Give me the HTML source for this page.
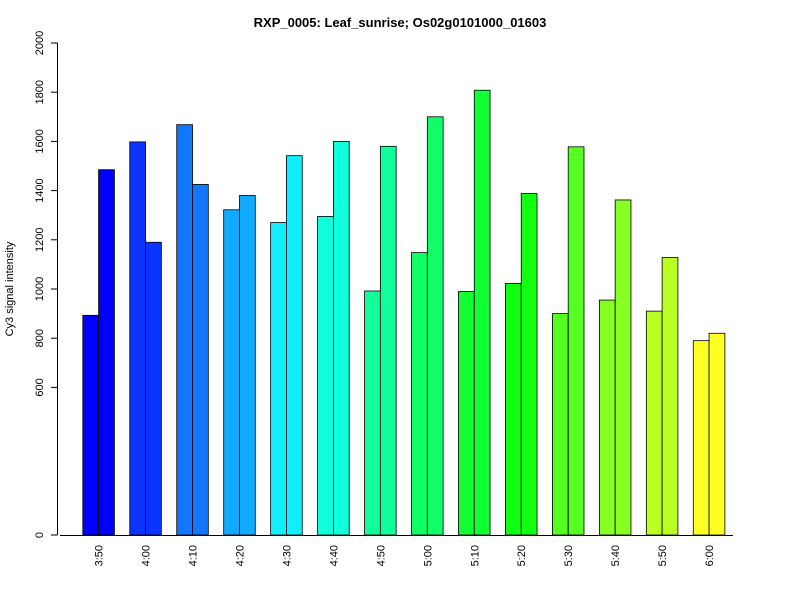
<!DOCTYPE html>
<html><head><meta charset="utf-8"><style>body{margin:0;background:#fff}svg{display:block;font-family:"Liberation Sans",Arial,sans-serif}</style></head>
<body>
<svg id="chart" width="800" height="600">
<text x="400" y="27" text-anchor="middle" font-weight="bold" font-size="13">RXP_0005: Leaf_sunrise; Os02g0101000_01603</text>
<text transform="translate(13,289) rotate(-90)" text-anchor="middle" font-size="11">Cy3 signal intensity</text>
<g id="bars"></g><g id="yaxis"></g><g id="xaxis"></g>
</svg>
<script>
const categories=["3:50","4:00","4:10","4:20","4:30","4:40","4:50","5:00","5:10","5:20","5:30","5:40","5:50","6:00"];
const series1=[893,1598,1668,1322,1270,1295,992,1148,990,1023,900,955,910,790];
const series2=[1485,1190,1425,1380,1542,1600,1580,1700,1808,1388,1578,1362,1128,820];
const colors=["#0000FF","#0D33FF","#1177FF","#11AAFF","#11EEFF","#11FFDD","#11FF99","#11FF66","#11FF33","#11FF11","#55FF22","#88FF22","#BBFF22","#FFFF22"];
const yTicks=[0,600,800,1000,1200,1400,1600,1800,2000];
const NS="http://www.w3.org/2000/svg";
const y=v=>535-v*(492/2000);
const gx=i=>82.8+i*46.96;
const bw=15.8;
function mk(t,a,p){const e=document.createElementNS(NS,t);for(const k in a)e.setAttribute(k,a[k]);p.appendChild(e);return e;}
const bars=document.getElementById('bars'),ya=document.getElementById('yaxis'),xa=document.getElementById('xaxis');
categories.forEach((c,i)=>{
 [series1[i],series2[i]].forEach((v,j)=>{
  const r=mk('rect',{x:gx(i)+j*bw,y:y(v),width:bw,height:535-y(v),fill:colors[i],stroke:'#000','stroke-width':0.8},bars);
  
  
 });
 const t=mk('text',{transform:`translate(${gx(i)+bw+4},545) rotate(-90)`,'text-anchor':'end','font-size':11},xa);
 t.textContent=c;
 
 
});
const base=mk('line',{x1:60,x2:733,y1:535.5,y2:535.5,stroke:'#000'},xa);


const yl=mk('line',{x1:57.5,x2:57.5,y1:y(0),y2:y(2000),stroke:'#000'},ya);


yTicks.forEach(v=>{
 mk('line',{x1:51,x2:57.5,y1:y(v),y2:y(v),stroke:'#000'},ya);
 const t=mk('text',{transform:`translate(43,${y(v)}) rotate(-90)`,'text-anchor':'middle','font-size':11},ya);
 t.textContent=v;
 
 
});
</script>
</body></html>
